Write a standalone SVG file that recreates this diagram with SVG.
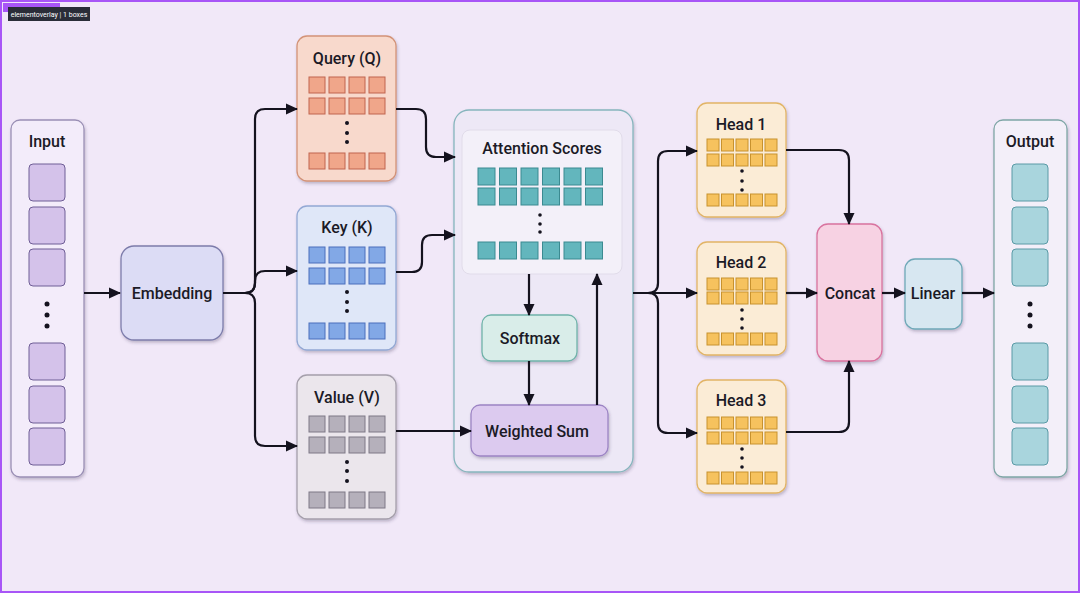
<svg xmlns="http://www.w3.org/2000/svg" width="1080" height="593" viewBox="0 0 1080 593">
<defs>
<marker id="ah" markerUnits="userSpaceOnUse" markerWidth="12" markerHeight="12" refX="11" refY="6" orient="auto"><path d="M0,0.5 L12,6 L0,11.5 z" fill="#14121e"/></marker>
<filter id="sh" x="-20%" y="-20%" width="140%" height="140%"><feDropShadow dx="1" dy="2" stdDeviation="1.5" flood-color="#3a3050" flood-opacity="0.28"/></filter>
<style>
text{font-family:Roboto,"Liberation Sans",Arial,sans-serif;font-weight:500;fill:#1b1a26;text-anchor:middle}
.t{font-size:16px}
.c{fill:none;stroke:#14121e;stroke-width:2.2;marker-end:url(#ah)}
.inq{fill:#d4c2ea;stroke:#6f5e96;stroke-width:1}
.outq{fill:#a9d5dd;stroke:#5a9aa6;stroke-width:1}
.qs{fill:#f0a68a;stroke:#c0654e;stroke-width:1}
.ks{fill:#82a8e6;stroke:#4a6fbc;stroke-width:1}
.vs{fill:#b5b0bb;stroke:#7e7886;stroke-width:1}
.as{fill:#63b6bd;stroke:#3b8a91;stroke-width:1}
.hs{fill:#f6c25e;stroke:#c8922e;stroke-width:1}
.dot{fill:#14121e}
.head{fill:#fbecd6;stroke:#e2b466;stroke-width:1.3}
</style>
</defs>
<rect x="0" y="0" width="1080" height="593" fill="#f1e8f8"/>
<rect x="1" y="1" width="1078" height="591" fill="none" stroke="#a855f7" stroke-width="2"/>
<rect x="3" y="3" width="57" height="9" fill="#a855f7"/>
<rect x="8" y="7" width="82" height="14" fill="#2a2d38"/>
<text x="49" y="17" style="font-size:7px;font-weight:400;fill:#ffffff">elementoverlay | 1 boxes</text>

<g id="input">
<rect x="11" y="120" width="73" height="357" rx="9" fill="#f3ecfa" stroke="#9a8fb5" stroke-width="1.3" filter="url(#sh)"/>
<text class="t" x="47" y="147">Input</text>
<rect class="inq" x="29" y="164" width="36" height="37" rx="4"/>
<rect class="inq" x="29" y="207" width="36" height="37" rx="4"/>
<rect class="inq" x="29" y="249" width="36" height="37" rx="4"/>
<circle class="dot" cx="47" cy="304" r="2.5"/><circle class="dot" cx="47" cy="315" r="2.5"/><circle class="dot" cx="47" cy="326" r="2.5"/>
<rect class="inq" x="29" y="343" width="36" height="37" rx="4"/>
<rect class="inq" x="29" y="386" width="36" height="37" rx="4"/>
<rect class="inq" x="29" y="428" width="36" height="37" rx="4"/>
</g>

<g id="embedding">
<rect x="121" y="246" width="102" height="94" rx="13" fill="#dcdcf5" stroke="#7d7cab" stroke-width="1.3" filter="url(#sh)"/>
<text class="t" x="172" y="299">Embedding</text>
</g>

<g id="query">
<rect x="297" y="36" width="99" height="145" rx="10" fill="#f8d9cc" stroke="#d39378" stroke-width="1.3" filter="url(#sh)"/>
<text class="t" x="347" y="64">Query (Q)</text>
<rect class="qs" x="309" y="77" width="16" height="16"/><rect class="qs" x="329" y="77" width="16" height="16"/><rect class="qs" x="349" y="77" width="16" height="16"/><rect class="qs" x="369" y="77" width="16" height="16"/>
<rect class="qs" x="309" y="98" width="16" height="16"/><rect class="qs" x="329" y="98" width="16" height="16"/><rect class="qs" x="349" y="98" width="16" height="16"/><rect class="qs" x="369" y="98" width="16" height="16"/>
<circle class="dot" cx="347" cy="123" r="2"/><circle class="dot" cx="347" cy="133" r="2"/><circle class="dot" cx="347" cy="142" r="2"/>
<rect class="qs" x="309" y="153" width="16" height="16"/><rect class="qs" x="329" y="153" width="16" height="16"/><rect class="qs" x="349" y="153" width="16" height="16"/><rect class="qs" x="369" y="153" width="16" height="16"/>
</g>

<g id="key">
<rect x="297" y="206" width="99" height="144" rx="10" fill="#dfe7f8" stroke="#93a8d4" stroke-width="1.3" filter="url(#sh)"/>
<text class="t" x="347" y="233">Key (K)</text>
<rect class="ks" x="309" y="247" width="16" height="16"/><rect class="ks" x="329" y="247" width="16" height="16"/><rect class="ks" x="349" y="247" width="16" height="16"/><rect class="ks" x="369" y="247" width="16" height="16"/>
<rect class="ks" x="309" y="268" width="16" height="16"/><rect class="ks" x="329" y="268" width="16" height="16"/><rect class="ks" x="349" y="268" width="16" height="16"/><rect class="ks" x="369" y="268" width="16" height="16"/>
<circle class="dot" cx="347" cy="292" r="2"/><circle class="dot" cx="347" cy="302" r="2"/><circle class="dot" cx="347" cy="311" r="2"/>
<rect class="ks" x="309" y="323" width="16" height="16"/><rect class="ks" x="329" y="323" width="16" height="16"/><rect class="ks" x="349" y="323" width="16" height="16"/><rect class="ks" x="369" y="323" width="16" height="16"/>
</g>

<g id="value">
<rect x="297" y="375" width="99" height="144" rx="10" fill="#ebe6ec" stroke="#a59fab" stroke-width="1.3" filter="url(#sh)"/>
<text class="t" x="347" y="403">Value (V)</text>
<rect class="vs" x="309" y="416" width="16" height="16"/><rect class="vs" x="329" y="416" width="16" height="16"/><rect class="vs" x="349" y="416" width="16" height="16"/><rect class="vs" x="369" y="416" width="16" height="16"/>
<rect class="vs" x="309" y="437" width="16" height="16"/><rect class="vs" x="329" y="437" width="16" height="16"/><rect class="vs" x="349" y="437" width="16" height="16"/><rect class="vs" x="369" y="437" width="16" height="16"/>
<circle class="dot" cx="347" cy="462" r="2"/><circle class="dot" cx="347" cy="471" r="2"/><circle class="dot" cx="347" cy="481" r="2"/>
<rect class="vs" x="309" y="492" width="16" height="16"/><rect class="vs" x="329" y="492" width="16" height="16"/><rect class="vs" x="349" y="492" width="16" height="16"/><rect class="vs" x="369" y="492" width="16" height="16"/>
</g>

<g id="attention">
<rect x="454" y="110" width="179" height="362" rx="15" fill="#ede8f6" stroke="#86b5bd" stroke-width="1.3" filter="url(#sh)"/>
</g>

<g id="attention-scores">
<rect x="462" y="130" width="160" height="144" rx="8" fill="#f3f0f9" stroke="#e1dcea" stroke-width="1"/>
<text class="t" x="542" y="154">Attention Scores</text>
<rect class="as" x="478" y="168" width="17" height="17"/><rect class="as" x="499.5" y="168" width="17" height="17"/><rect class="as" x="521" y="168" width="17" height="17"/><rect class="as" x="542.5" y="168" width="17" height="17"/><rect class="as" x="564" y="168" width="17" height="17"/><rect class="as" x="585.5" y="168" width="17" height="17"/>
<rect class="as" x="478" y="188" width="17" height="17"/><rect class="as" x="499.5" y="188" width="17" height="17"/><rect class="as" x="521" y="188" width="17" height="17"/><rect class="as" x="542.5" y="188" width="17" height="17"/><rect class="as" x="564" y="188" width="17" height="17"/><rect class="as" x="585.5" y="188" width="17" height="17"/>
<circle class="dot" cx="540" cy="215" r="1.8"/><circle class="dot" cx="540" cy="224" r="1.8"/><circle class="dot" cx="540" cy="232" r="1.8"/>
<rect class="as" x="478" y="242" width="17" height="17"/><rect class="as" x="499.5" y="242" width="17" height="17"/><rect class="as" x="521" y="242" width="17" height="17"/><rect class="as" x="542.5" y="242" width="17" height="17"/><rect class="as" x="564" y="242" width="17" height="17"/><rect class="as" x="585.5" y="242" width="17" height="17"/>
</g>

<g id="softmax">
<rect x="482" y="315" width="95" height="46" rx="9" fill="#d9ede9" stroke="#70b3aa" stroke-width="1.3" filter="url(#sh)"/>
<text class="t" x="530" y="344">Softmax</text>
</g>

<g id="weighted-sum">
<rect x="471" y="405" width="137" height="51" rx="9" fill="#dccaef" stroke="#9c84c4" stroke-width="1.3" filter="url(#sh)"/>
<text class="t" x="537" y="437">Weighted Sum</text>
</g>

<g id="head1">
<rect class="head" x="697" y="103" width="89" height="114" rx="10" filter="url(#sh)"/>
<text class="t" x="741" y="130">Head 1</text>
<rect class="hs" x="707" y="139" width="12" height="12"/><rect class="hs" x="721.5" y="139" width="12" height="12"/><rect class="hs" x="736" y="139" width="12" height="12"/><rect class="hs" x="750.5" y="139" width="12" height="12"/><rect class="hs" x="765" y="139" width="12" height="12"/>
<rect class="hs" x="707" y="154" width="12" height="12"/><rect class="hs" x="721.5" y="154" width="12" height="12"/><rect class="hs" x="736" y="154" width="12" height="12"/><rect class="hs" x="750.5" y="154" width="12" height="12"/><rect class="hs" x="765" y="154" width="12" height="12"/>
<circle class="dot" cx="742" cy="171" r="1.8"/><circle class="dot" cx="742" cy="181" r="1.8"/><circle class="dot" cx="742" cy="190" r="1.8"/>
<rect class="hs" x="707" y="194" width="12" height="12"/><rect class="hs" x="721.5" y="194" width="12" height="12"/><rect class="hs" x="736" y="194" width="12" height="12"/><rect class="hs" x="750.5" y="194" width="12" height="12"/><rect class="hs" x="765" y="194" width="12" height="12"/>
</g>

<g id="head2">
<rect class="head" x="697" y="242" width="89" height="113" rx="10" filter="url(#sh)"/>
<text class="t" x="741" y="268">Head 2</text>
<rect class="hs" x="707" y="278" width="12" height="12"/><rect class="hs" x="721.5" y="278" width="12" height="12"/><rect class="hs" x="736" y="278" width="12" height="12"/><rect class="hs" x="750.5" y="278" width="12" height="12"/><rect class="hs" x="765" y="278" width="12" height="12"/>
<rect class="hs" x="707" y="292" width="12" height="12"/><rect class="hs" x="721.5" y="292" width="12" height="12"/><rect class="hs" x="736" y="292" width="12" height="12"/><rect class="hs" x="750.5" y="292" width="12" height="12"/><rect class="hs" x="765" y="292" width="12" height="12"/>
<circle class="dot" cx="742" cy="310" r="1.8"/><circle class="dot" cx="742" cy="319" r="1.8"/><circle class="dot" cx="742" cy="328" r="1.8"/>
<rect class="hs" x="707" y="333" width="12" height="12"/><rect class="hs" x="721.5" y="333" width="12" height="12"/><rect class="hs" x="736" y="333" width="12" height="12"/><rect class="hs" x="750.5" y="333" width="12" height="12"/><rect class="hs" x="765" y="333" width="12" height="12"/>
</g>

<g id="head3">
<rect class="head" x="697" y="380" width="89" height="113" rx="10" filter="url(#sh)"/>
<text class="t" x="741" y="406">Head 3</text>
<rect class="hs" x="707" y="417" width="12" height="12"/><rect class="hs" x="721.5" y="417" width="12" height="12"/><rect class="hs" x="736" y="417" width="12" height="12"/><rect class="hs" x="750.5" y="417" width="12" height="12"/><rect class="hs" x="765" y="417" width="12" height="12"/>
<rect class="hs" x="707" y="432" width="12" height="12"/><rect class="hs" x="721.5" y="432" width="12" height="12"/><rect class="hs" x="736" y="432" width="12" height="12"/><rect class="hs" x="750.5" y="432" width="12" height="12"/><rect class="hs" x="765" y="432" width="12" height="12"/>
<circle class="dot" cx="742" cy="449" r="1.8"/><circle class="dot" cx="742" cy="458" r="1.8"/><circle class="dot" cx="742" cy="467" r="1.8"/>
<rect class="hs" x="707" y="472" width="12" height="12"/><rect class="hs" x="721.5" y="472" width="12" height="12"/><rect class="hs" x="736" y="472" width="12" height="12"/><rect class="hs" x="750.5" y="472" width="12" height="12"/><rect class="hs" x="765" y="472" width="12" height="12"/>
</g>

<g id="concat">
<rect x="817" y="224" width="65" height="137" rx="11" fill="#f7d2e3" stroke="#d9739f" stroke-width="1.3" filter="url(#sh)"/>
<text class="t" x="850" y="299">Concat</text>
</g>

<g id="linear">
<rect x="905" y="259" width="57" height="70" rx="10" fill="#d7e7f1" stroke="#6fa8b8" stroke-width="1.3" filter="url(#sh)"/>
<text class="t" x="933" y="299">Linear</text>
</g>

<g id="output">
<rect x="994" y="120" width="73" height="357" rx="9" fill="#f3eff9" stroke="#7fa6a6" stroke-width="1.3" filter="url(#sh)"/>
<text class="t" x="1030" y="147">Output</text>
<rect class="outq" x="1012" y="164" width="36" height="37" rx="4"/>
<rect class="outq" x="1012" y="207" width="36" height="37" rx="4"/>
<rect class="outq" x="1012" y="249" width="36" height="37" rx="4"/>
<circle class="dot" cx="1030" cy="304" r="2.5"/><circle class="dot" cx="1030" cy="315" r="2.5"/><circle class="dot" cx="1030" cy="326" r="2.5"/>
<rect class="outq" x="1012" y="343" width="36" height="37" rx="4"/>
<rect class="outq" x="1012" y="386" width="36" height="37" rx="4"/>
<rect class="outq" x="1012" y="428" width="36" height="37" rx="4"/>
</g>

<g id="connectors">
<path class="c" d="M84,293 H120"/>
<path class="c" d="M223,293 H245 Q255,293 255,283 V119 Q255,109 265,109 H297"/>
<path class="c" d="M245,293 Q255,293 255,283 V281 Q255,271 265,271 H297"/>
<path class="c" d="M245,293 Q255,293 255,303 V436 Q255,446 265,446 H297"/>
<path class="c" d="M396,109 H416 Q426,109 426,119 V147 Q426,157 436,157 H455"/>
<path class="c" d="M396,272 H412 Q422,272 422,262 V245 Q422,235 432,235 H455"/>
<path class="c" d="M396,431 H471"/>
<path class="c" d="M529,274 V315"/>
<path class="c" d="M529,361 V405"/>
<path class="c" d="M597,405 V274"/>
<path class="c" d="M633,293 H697"/>
<path class="c" d="M648,293 Q658,293 658,283 V161 Q658,151 668,151 H697"/>
<path class="c" d="M648,293 Q658,293 658,303 V423 Q658,433 668,433 H697"/>
<path class="c" d="M786,150 H839 Q849,150 849,160 V224"/>
<path class="c" d="M786,432 H839 Q849,432 849,422 V361"/>
<path class="c" d="M786,293 H817"/>
<path class="c" d="M882,293 H905"/>
<path class="c" d="M962,293 H994"/>
</g>
</svg>
